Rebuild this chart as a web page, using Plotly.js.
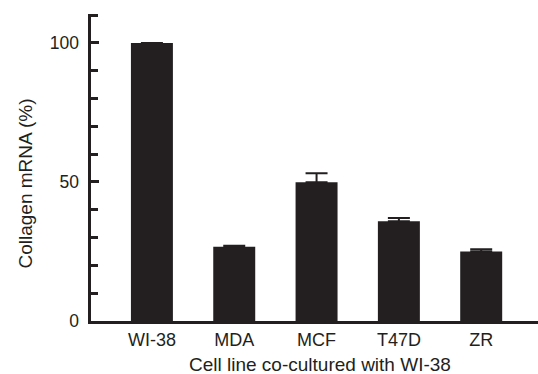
<!DOCTYPE html>
<html>
<head>
<meta charset="utf-8">
<script src="https://cdn.plot.ly/plotly-3.0.1.min.js"></script>
<style>html,body{margin:0;padding:0;background:#fff;}#chart{width:538px;height:374px;}</style>
</head>
<body>
<div id="chart"></div>
<script>
const categories = ["WI-38", "MDA", "MCF", "T47D", "ZR"];
const collagenValues = [100, 26.7, 49.9, 35.9, 25.0];
const errorPlus = [0, 0.4, 3.2, 1.1, 0.8];
const yTickValues = [0, 50, 100];
const yTickLabels = ["0", "50", "100"];
const xTitle = "Cell line co-cultured with WI-38";
const yTitle = "Collagen mRNA (%)";

const ink = "#231f20";
const font = "Arial, 'Liberation Sans', Helvetica, sans-serif";

const trace = {
  type: "bar",
  x: categories,
  y: collagenValues,
  marker: {color: ink, line: {width: 0}},
  error_y: {
    type: "data",
    symmetric: false,
    array: errorPlus,
    arrayminus: categories.map(() => 0),
    color: ink,
    thickness: 2,
    width: 11
  },
  hoverinfo: "skip"
};

const layout = {
  width: 538,
  height: 374,
  margin: {l: 91, r: 0, t: 14, b: 53},
  paper_bgcolor: "#ffffff",
  plot_bgcolor: "#ffffff",
  showlegend: false,
  bargap: 0.49,
  font: {family: font, color: ink, size: 17},
  xaxis: {
    type: "category",
    range: [-0.74, 4.69],
    showline: true,
    linecolor: ink,
    linewidth: 3,
    ticks: "",
    showgrid: false,
    zeroline: false,
    tickfont: {family: font, size: 18, color: ink}
  },
  yaxis: {
    range: [0, 110.4],
    showline: true,
    linecolor: ink,
    linewidth: 3.5,
    showgrid: false,
    zeroline: false,
    ticks: "inside",
    ticklen: 8,
    tickwidth: 3,
    tickcolor: ink,
    tickvals: yTickValues,
    ticktext: yTickLabels,
    ticklabelstandoff: 5,
    minor: {dtick: 10, ticks: "inside", ticklen: 7, tickwidth: 3, tickcolor: ink, showgrid: false},
    tickfont: {family: font, size: 17.5, color: ink}
  },
  annotations: [
    {text: xTitle, xref: "paper", yref: "paper", x: (320 - 91) / 447, y: (321 - 364) / 307,
     xanchor: "center", yanchor: "middle", showarrow: false, font: {family: font, size: 19, color: ink}},
    {text: yTitle, xref: "paper", yref: "paper", x: (25 - 91) / 447, y: (321 - 183.5) / 307,
     xanchor: "center", yanchor: "middle", textangle: -90, showarrow: false, font: {family: font, size: 19, color: ink}}
  ]
};

Plotly.newPlot("chart", [trace], layout, {staticPlot: true, displayModeBar: false});
</script>
</body>
</html>
